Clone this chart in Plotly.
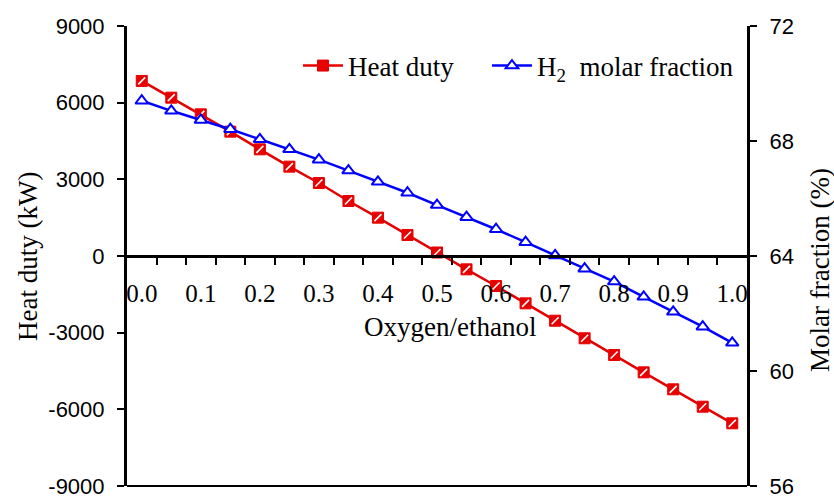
import plotly.graph_objects as go

# ---------------- data ----------------
ratio = [0.00, 0.05, 0.10, 0.15, 0.20, 0.25, 0.30, 0.35, 0.40, 0.45, 0.50,
         0.55, 0.60, 0.65, 0.70, 0.75, 0.80, 0.85, 0.90, 0.95, 1.00]
heat_duty = [6850, 6195, 5544, 4865, 4174, 3496, 2856, 2152, 1500, 822, 137,
             -522, -1174, -1852, -2532, -3220, -3874, -4552, -5217, -5897, -6547]
h2_fraction = [69.40, 69.05, 68.73, 68.41, 68.06, 67.71, 67.35, 66.97, 66.58, 66.20, 65.77,
               65.35, 64.93, 64.48, 64.02, 63.56, 63.11, 62.58, 62.06, 61.54, 60.98]

x_tick_vals = [0.0, 0.1, 0.2, 0.3, 0.4, 0.5, 0.6, 0.7, 0.8, 0.9, 1.0]
x_tick_text = ["0.0", "0.1", "0.2", "0.3", "0.4", "0.5", "0.6", "0.7", "0.8", "0.9", "1.0"]
left_tick_vals = [-9000, -6000, -3000, 0, 3000, 6000, 9000]
left_tick_text = ["-9000", "-6000", "-3000", "0", "3000", "6000", "9000"]
right_tick_vals = [56, 60, 64, 68, 72]

# category boundaries (tick marks between categories)
minor_ticks = [round(v + 0.025, 3) for v in ratio[:-1]]

RED = "#E60000"
BLUE = "#0000FF"
SERIF = "Liberation Serif"
SANS = "Liberation Sans"

fig = go.Figure()

fig.add_trace(go.Scatter(
    x=ratio, y=heat_duty, name="Heat duty", mode="lines+markers",
    line=dict(color=RED, width=2.5),
    marker=dict(symbol="square", size=11, color=RED, line=dict(color=RED, width=1)),
    yaxis="y", legend="legend",
))
fig.add_trace(go.Scatter(
    x=ratio, y=heat_duty, mode="markers", showlegend=False, hoverinfo="skip",
    marker=dict(symbol="line-ne", size=7, line=dict(color="white", width=1.6)),
    yaxis="y",
))
fig.add_trace(go.Scatter(
    x=ratio, y=h2_fraction, name="H<sub>2</sub>  molar fraction", mode="lines+markers",
    line=dict(color=BLUE, width=2.5),
    marker=dict(symbol="triangle-up", size=11, color="white", line=dict(color=BLUE, width=2)),
    yaxis="y2", legend="legend2",
))

legend_style = dict(orientation="h", y=0.913, xanchor="left", yanchor="middle",
                    font=dict(family=SERIF, size=27, color="black"),
                    bgcolor="rgba(0,0,0,0)", itemwidth=40)

fig.update_layout(
    width=834, height=497,
    margin=dict(l=127, r=87, t=26, b=11),
    paper_bgcolor="white", plot_bgcolor="white",
    font=dict(family=SERIF, color="black"),
    showlegend=True,
    legend=dict(x=0.2758, **legend_style),
    legend2=dict(x=0.5806, **legend_style),
    xaxis=dict(
        range=[-0.025, 1.025], anchor="free", position=0.5,
        showline=True, linecolor="black", linewidth=3,
        tickmode="array", tickvals=x_tick_vals, ticktext=x_tick_text,
        ticks="outside", ticklen=14, tickcolor="rgba(0,0,0,0)",
        minor=dict(tickmode="array", tickvals=minor_ticks, ticks="outside",
                   ticklen=7, tickwidth=2, tickcolor="black", showgrid=False),
        tickfont=dict(family=SERIF, size=25, color="black"),
        showgrid=False, zeroline=False, automargin=False,
    ),
    yaxis=dict(
        range=[-9000, 9000], tickmode="array", tickvals=left_tick_vals,
        ticktext=left_tick_text,
        showline=True, linecolor="black", linewidth=3,
        ticks="outside", ticklen=7, tickwidth=2, tickcolor="black",
        tickfont=dict(family=SANS, size=22, color="black"),
        ticklabelstandoff=8, ticklabeloverflow="allow", automargin=False,
        showgrid=False, zeroline=False,
    ),
    yaxis2=dict(
        range=[56, 72], tickmode="array", tickvals=right_tick_vals,
        overlaying="y", side="right",
        showline=True, linecolor="black", linewidth=3,
        ticks="outside", ticklen=7, tickwidth=2, tickcolor="black",
        tickfont=dict(family=SANS, size=22, color="black"),
        ticklabelstandoff=8, ticklabeloverflow="allow", automargin=False,
        showgrid=False, zeroline=False,
    ),
    shapes=[dict(type="line", xref="paper", yref="paper", x0=0, x1=1, y0=0, y1=0,
                 line=dict(color="black", width=2))],
    annotations=[
        dict(text="Heat duty (kW)", xref="paper", yref="paper", x=-0.1597, y=0.5,
             textangle=-90, showarrow=False, xanchor="center", yanchor="middle",
             font=dict(family=SERIF, size=27, color="black")),
        dict(text="Molar fraction (%)", xref="paper", yref="paper", x=1.1177, y=0.4696,
             textangle=-90, showarrow=False, xanchor="center", yanchor="middle",
             font=dict(family=SERIF, size=27, color="black")),
        dict(text="Oxygen/ethanol", xref="paper", yref="paper", x=0.521, y=0.3457,
             showarrow=False, xanchor="center", yanchor="middle",
             font=dict(family=SERIF, size=27, color="black")),
    ],
)

fig.write_html("out.html")
